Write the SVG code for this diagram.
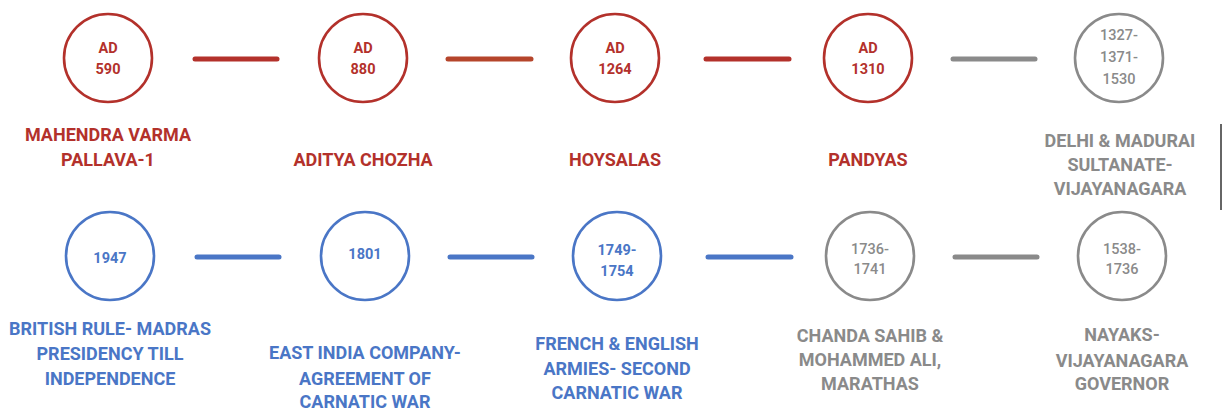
<svg xmlns="http://www.w3.org/2000/svg" width="1224" height="410" viewBox="0 0 1224 410">
<style>
.c{fill:none;stroke-width:2.6}
.red{stroke:#b3312b}.blue{stroke:#4a76c6}.gray{stroke:#8a8a8a}
.d{font-family:Roboto,"Liberation Sans",sans-serif;font-size:14.5px;font-weight:700;text-anchor:middle}
.dg{font-weight:500}
.l{font-family:Roboto,"Liberation Sans",sans-serif;font-size:18px;font-weight:700;text-anchor:middle}
.tr{fill:#b3312b}.tb{fill:#4a76c6}.tg{fill:#8a8a8a}
.k{stroke-width:5;stroke-linecap:round;fill:none}
</style>
<rect width="1224" height="410" fill="#ffffff"/>
<g id="connectors">
<line class="k red" x1="195" y1="59" x2="277" y2="59"/>
<line class="k" stroke="#b5452b" x1="448" y1="59" x2="531" y2="59"/>
<line class="k red" x1="706" y1="59" x2="789" y2="59"/>
<line class="k gray" x1="953" y1="59" x2="1035" y2="59"/>
<line class="k blue" x1="197" y1="257" x2="279" y2="257"/>
<line class="k blue" x1="450" y1="257" x2="532" y2="257"/>
<line class="k blue" x1="708" y1="257" x2="791" y2="257"/>
<line class="k gray" x1="955" y1="257" x2="1037" y2="257"/>
</g>
<g id="n1">
<circle class="c red" cx="108" cy="58" r="44"/>
<text class="d tr" x="108" y="53">AD</text><text class="d tr" x="108" y="74">590</text>
<text class="l tr" x="108" y="141">MAHENDRA VARMA</text><text class="l tr" x="108" y="166">PALLAVA-1</text>
</g>
<g id="n2">
<circle class="c red" cx="363" cy="58" r="44"/>
<text class="d tr" x="363" y="53">AD</text><text class="d tr" x="363" y="74">880</text>
<text class="l tr" x="363" y="166">ADITYA CHOZHA</text>
</g>
<g id="n3">
<circle class="c red" cx="615" cy="58" r="44"/>
<text class="d tr" x="615" y="53">AD</text><text class="d tr" x="615" y="74">1264</text>
<text class="l tr" x="615" y="166">HOYSALAS</text>
</g>
<g id="n4">
<circle class="c red" cx="868" cy="58" r="44"/>
<text class="d tr" x="868" y="53">AD</text><text class="d tr" x="868" y="74">1310</text>
<text class="l tr" x="868" y="166">PANDYAS</text>
</g>
<g id="n5">
<circle class="c gray" cx="1119" cy="58" r="44"/>
<text class="d dg tg" x="1119" y="40">1327-</text><text class="d dg tg" x="1119" y="62">1371-</text><text class="d dg tg" x="1119" y="84">1530</text>
<text class="l tg" x="1120" y="147">DELHI &amp; MADURAI</text><text class="l tg" x="1120" y="171">SULTANATE-</text><text class="l tg" x="1120" y="195">VIJAYANAGARA</text>
</g>
<g id="n6">
<circle class="c blue" cx="110" cy="256" r="44"/>
<text class="d tb" x="110" y="263">1947</text>
<text class="l tb" x="110" y="335">BRITISH RULE- MADRAS</text><text class="l tb" x="110" y="360">PRESIDENCY TILL</text><text class="l tb" x="110" y="385">INDEPENDENCE</text>
</g>
<g id="n7">
<circle class="c blue" cx="365" cy="256" r="44"/>
<text class="d tb" x="365" y="259">1801</text>
<text class="l tb" x="365" y="359">EAST INDIA COMPANY-</text><text class="l tb" x="365" y="385">AGREEMENT OF</text><text class="l tb" x="365" y="408">CARNATIC WAR</text>
</g>
<g id="n8">
<circle class="c blue" cx="617" cy="256" r="44"/>
<text class="d tb" x="617" y="255">1749-</text><text class="d tb" x="617" y="276">1754</text>
<text class="l tb" x="617" y="350">FRENCH &amp; ENGLISH</text><text class="l tb" x="617" y="375">ARMIES- SECOND</text><text class="l tb" x="617" y="399">CARNATIC WAR</text>
</g>
<g id="n9">
<circle class="c gray" cx="870" cy="256" r="44"/>
<text class="d dg tg" x="870" y="254">1736-</text><text class="d dg tg" x="870" y="274">1741</text>
<text class="l tg" x="870" y="342">CHANDA SAHIB &amp;</text><text class="l tg" x="870" y="366">MOHAMMED ALI,</text><text class="l tg" x="870" y="390">MARATHAS</text>
</g>
<g id="n10">
<circle class="c gray" cx="1122" cy="256" r="44"/>
<text class="d dg tg" x="1122" y="254">1538-</text><text class="d dg tg" x="1122" y="274">1736</text>
<text class="l tg" x="1122" y="341">NAYAKS-</text><text class="l tg" x="1122" y="367">VIJAYANAGARA</text><text class="l tg" x="1122" y="390">GOVERNOR</text>
</g>
<rect x="1220" y="124" width="2" height="86" fill="#666666"/>
</svg>
